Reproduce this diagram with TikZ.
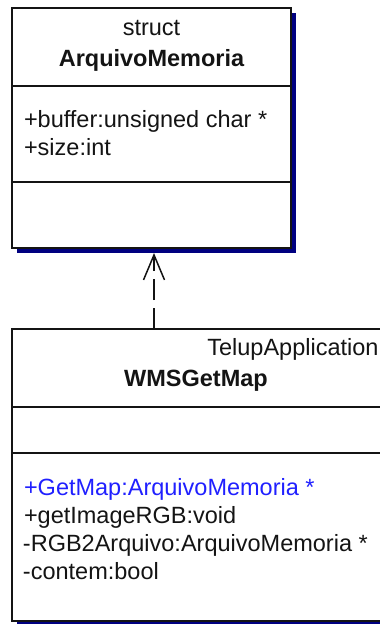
\documentclass[tikz,border=0pt]{standalone}
\usepackage{fontspec}
\setmainfont{Liberation Sans}
\usetikzlibrary{arrows.meta}
\definecolor{shadowblue}{RGB}{0,0,128}
\definecolor{opblue}{RGB}{32,32,255}
\definecolor{inkgray}{RGB}{20,20,20}
\begin{document}
\begin{tikzpicture}[x=1pt, y=-1pt,
  classbox/.style={draw=inkgray, line width=1.5pt, fill=white, outer sep=0pt, inner sep=0pt},
  boxshadow/.style={fill=shadowblue, draw=none},
  divider/.style={draw=inkgray, line width=1.5pt},
  txt/.style={inner sep=0pt, outer sep=0pt, text=inkgray, font=\fontsize{23.5}{28}\selectfont},
  title/.style={txt, anchor=base},
  member/.style={txt, anchor=base west},
  op/.style={member, text=opblue},
  depline/.style={draw=inkgray, line width=1.5pt, dash pattern=on 21pt off 8pt,
    -{Straight Barb[length=25pt, width=21pt, line width=1.5pt]}}
]
\useasboundingbox (0,0) rectangle (380,624);
\clip (0,0) rectangle (380,624);

% drop shadows of the two class boxes
\fill[boxshadow] (17,13) rectangle (296,253);
\fill[boxshadow] (17,334) rectangle (390,626);

% struct ArquivoMemoria
\node[classbox, anchor=north west, minimum width=279pt, minimum height=240pt] (arq) at (12,8) {};
\draw[divider] (12,86) -- (291,86);
\draw[divider] (12,182) -- (291,182);
\node[title] (arq-stereo) at (151.5,35) {struct};
\node[title, font=\fontsize{23.5}{28}\selectfont\bfseries] (arq-name) at (151.5,66) {ArquivoMemoria};
\node[member] (arq-a1) at (24,127) {+buffer:unsigned char *};
\node[member] (arq-a2) at (24,155) {+size:int};

% class WMSGetMap (package TelupApplication)
\node[classbox, anchor=north west, minimum width=372pt, minimum height=292pt] (wms) at (12,329) {};
\draw[divider] (12,407) -- (384,407);
\draw[divider] (12,453) -- (384,453);
\node[txt, anchor=base east] (wms-pkg) at (378.5,355) {TelupApplication};
\node[title, font=\fontsize{23.5}{28}\selectfont\bfseries] (wms-name) at (196,386) {WMSGetMap};
\node[op] (wms-o1) at (24,495) {+GetMap:ArquivoMemoria *};
\node[member] (wms-o2) at (24,523) {+getImageRGB:void};
\node[member] (wms-o3) at (23,551) {-RGB2Arquivo:ArquivoMemoria *};
\node[member] (wms-o4) at (23,579) {-contem:bool};

% dependency WMSGetMap - - -> ArquivoMemoria (ends on the shadow edge)
\coordinate (dep-end) at (154,253);
\draw[depline] (wms.north -| dep-end) -- (dep-end);
\end{tikzpicture}
\end{document}
